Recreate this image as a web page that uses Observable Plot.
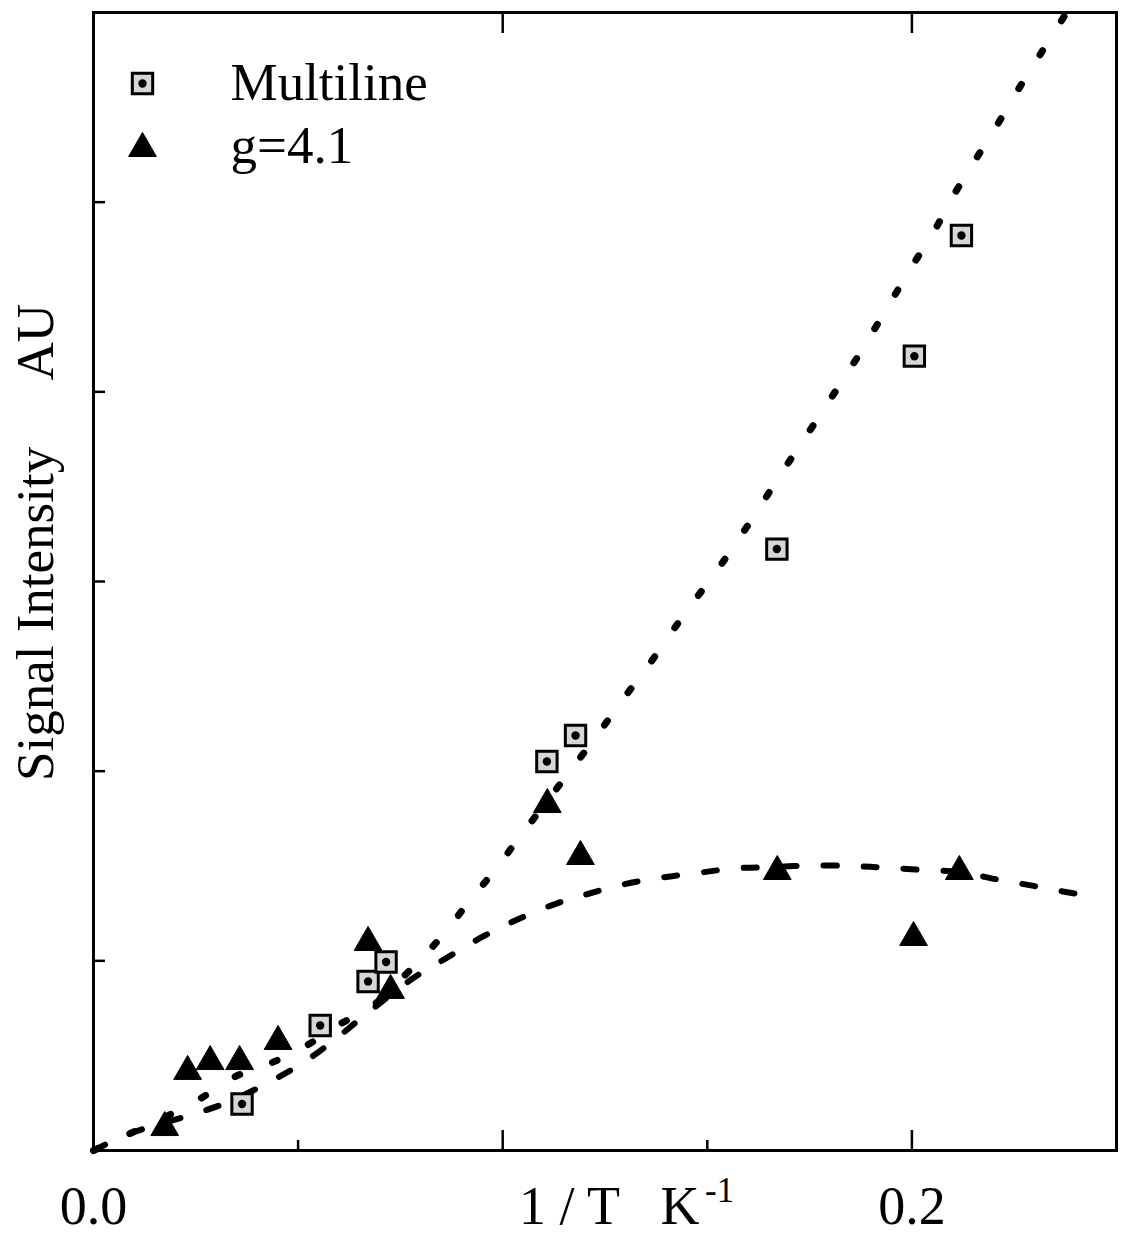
<!DOCTYPE html>
<html>
<head>
<meta charset="utf-8">
<script src="https://cdn.jsdelivr.net/npm/d3@7"></script>
<script src="https://cdn.jsdelivr.net/npm/@observablehq/plot@0.6"></script>
<style>
  html, body { margin: 0; padding: 0; background: #fff; }
  #chart svg { display: block; }
</style>
</head>
<body>
<div id="chart"></div>
<script>
// ---- data ----
const seriesNames = ["Multiline", "g=4.1"];

// Multiline (squares)
const multilineX = [0.0363, 0.0554, 0.0671, 0.0715, 0.1108, 0.1178, 0.1670, 0.2006, 0.2121];
const multilineY = [0.245, 0.659, 0.891, 0.994, 2.051, 2.188, 3.171, 4.188, 4.824];

// g=4.1 (triangles)
const g41X = [0.0174, 0.0230, 0.0285, 0.0357, 0.0451, 0.0671, 0.0726, 0.1109, 0.1190, 0.1671, 0.2004, 0.2116];
const g41Y = [0.121, 0.417, 0.469, 0.469, 0.575, 1.097, 0.844, 1.824, 1.550, 1.471, 1.123, 1.471];

// fitted curve through the Multiline data (dotted)
const fitMultilineX = [0, 0.0090, 0.0249, 0.0342, 0.0437, 0.0521, 0.0596, 0.0677, 0.0782, 0.0853, 0.0914, 0.0978, 0.1048, 0.1171, 0.1232, 0.1288, 0.1349, 0.1454, 0.1515, 0.1569, 0.1623, 0.1674, 0.1728, 0.1816, 0.1865, 0.1914, 0.1962, 0.2009, 0.2058, 0.2099, 0.2165, 0.2212, 0.2260, 0.2309, 0.2358, 0.2378];
const fitMultilineY = [0, 0.090, 0.258, 0.385, 0.464, 0.554, 0.659, 0.754, 0.970, 1.134, 1.302, 1.471, 1.671, 2.019, 2.193, 2.362, 2.536, 2.858, 3.032, 3.200, 3.374, 3.548, 3.722, 4.012, 4.176, 4.350, 4.524, 4.692, 4.861, 5.025, 5.257, 5.420, 5.594, 5.763, 5.931, 6.0];

// fitted curve through the g=4.1 data (dashed)
const fitG41X = [0, 0.0090, 0.0249, 0.0327, 0.0437, 0.0521, 0.0596, 0.0677, 0.0787, 0.0865, 0.0943, 0.1036, 0.1131, 0.1212, 0.1293, 0.1388, 0.1486, 0.1564, 0.1669, 0.1750, 0.1852, 0.1928, 0.2009, 0.2121, 0.2209, 0.2280, 0.2356, 0.2460];
const fitG41Y = [0, 0.090, 0.195, 0.253, 0.369, 0.475, 0.596, 0.738, 0.917, 1.018, 1.118, 1.218, 1.302, 1.355, 1.402, 1.439, 1.466, 1.487, 1.495, 1.503, 1.500, 1.492, 1.482, 1.466, 1.429, 1.402, 1.371, 1.330];

// axes
const xDomain = [0, 0.25];
const yDomain = [0, 6];
const xTickLabels = [0, 0.2];
const xMajorTicks = [0.1, 0.2];
const xMinorTicks = [0.05, 0.15];
const yTicks = [1, 2, 3, 4, 5];
const xLabel = "1 / T\u00a0\u00a0\u00a0K";
const xLabelSup = "-1";
const yLabel = "Signal Intensity\u00a0\u00a0\u00a0\u00a0\u00a0AU";

// ---- tables built from the arrays ----
const multiline = multilineX.map((x, i) => ({x, y: multilineY[i]}));
const g41 = g41X.map((x, i) => ({x, y: g41Y[i]}));
const fitMultiline = fitMultilineX.map((x, i) => ({x, y: fitMultilineY[i]}));
const fitG41 = fitG41X.map((x, i) => ({x, y: fitG41Y[i]}));

const serif = "'Liberation Serif', 'Times New Roman', Times, serif";
const blank = () => "";

const chart = Plot.plot({
  width: 1130,
  height: 1236,
  marginLeft: 93,
  marginRight: 14,
  marginTop: 12,
  marginBottom: 86,
  style: {background: "#fff", color: "#000", fontFamily: serif},
  x: {domain: xDomain, label: null},
  y: {domain: yDomain, label: null},
  marks: [
    // fit curves
    Plot.line(fitG41, {x: "x", y: "y", curve: "catmull-rom", stroke: "#000", strokeWidth: 6, strokeDasharray: "13,27"}),
    Plot.line(fitMultiline, {x: "x", y: "y", curve: "catmull-rom", stroke: "#000", strokeWidth: 7, strokeLinecap: "round", strokeDasharray: "5,35"}),
    // data
    Plot.dot(g41, {x: "x", y: "y", symbol: "triangle", r: 10.3, fill: "#000", stroke: "#000", strokeWidth: 1}),
    Plot.dot(multiline, {x: "x", y: "y", symbol: "square", r: 11.5, fill: "#d6d6d6", stroke: "#000", strokeWidth: 3}),
    Plot.dot(multiline, {x: "x", y: "y", r: 4.2, fill: "#000"}),
    // frame and ticks
    Plot.frame({stroke: "#000", strokeWidth: 3}),
    Plot.axisX(xMajorTicks, {anchor: "bottom", tickSize: -20, strokeWidth: 2.5, tickFormat: blank, label: null}),
    Plot.axisX(xMinorTicks, {anchor: "bottom", tickSize: -10, strokeWidth: 2.5, tickFormat: blank, label: null}),
    Plot.axisX(xMajorTicks, {anchor: "top", tickSize: -20, strokeWidth: 2.5, tickFormat: blank, label: null}),
    Plot.axisY(yTicks, {anchor: "left", tickSize: -12, strokeWidth: 2.5, tickFormat: blank, label: null}),
    Plot.axisX(xTickLabels, {anchor: "bottom", tickSize: 0, tickPadding: 35, tickFormat: d3.format(".1f"), fontSize: 54, fontFamily: serif, label: null}),
    // axis titles
    Plot.text([xLabel], {frameAnchor: "bottom", dx: -86, dy: 73, textAnchor: "start", lineAnchor: "bottom", fontSize: 54, fontFamily: serif}),
    Plot.text([xLabelSup], {frameAnchor: "bottom", dx: 100, dy: 51, textAnchor: "start", lineAnchor: "bottom", fontSize: 35, fontFamily: serif}),
    Plot.text([yLabel], {frameAnchor: "left", rotate: -90, dx: -41, dy: -39, textAnchor: "middle", lineAnchor: "bottom", fontSize: 53, fontFamily: serif}),
    // legend
    Plot.dot([seriesNames[0]], {frameAnchor: "top-left", dx: 49, dy: 71, symbol: "square", r: 11.5, fill: "#d6d6d6", stroke: "#000", strokeWidth: 3}),
    Plot.dot([seriesNames[0]], {frameAnchor: "top-left", dx: 49, dy: 71, r: 4.2, fill: "#000"}),
    Plot.dot([seriesNames[1]], {frameAnchor: "top-left", dx: 49, dy: 136, symbol: "triangle", r: 10.3, fill: "#000", stroke: "#000", strokeWidth: 1}),
    Plot.text([seriesNames[0]], {frameAnchor: "top-left", dx: 137, dy: 71, textAnchor: "start", lineAnchor: "middle", fontSize: 53, fontFamily: serif}),
    Plot.text([seriesNames[1]], {frameAnchor: "top-left", dx: 137, dy: 134, textAnchor: "start", lineAnchor: "middle", fontSize: 53, fontFamily: serif})
  ]
});

document.getElementById("chart").appendChild(chart);
</script>
</body>
</html>
